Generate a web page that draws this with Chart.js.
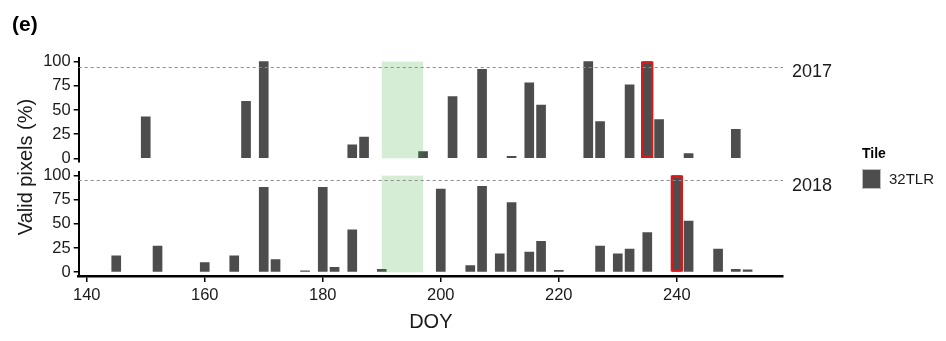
<!DOCTYPE html>
<html>
<head>
<meta charset="utf-8">
<script src="https://cdn.jsdelivr.net/npm/chart.js@4.4.1/dist/chart.umd.min.js"></script>
<style>
  body { margin: 0; background: #fff; font-family: "Liberation Sans", Arial, sans-serif; }
  #wrap { position: relative; width: 946px; height: 341px; overflow: hidden; }
  canvas { position: absolute; left: 0; }
  #topChart { top: 0; }
  #bottomChart { top: 153px; }
  .txt { position: absolute; color: #000; white-space: nowrap; line-height: 1; }
  #tag { left: 12px; top: 13px; font-size: 21px; font-weight: bold; }
  #ytitle { left: 25px; top: 167px; font-size: 20px; color: #1a1a1a; transform: translate(-50%, -50%) rotate(-90deg); }
  #y2017 { left: 792px; top: 62px; font-size: 18px; color: #1a1a1a; }
  #y2018 { left: 792px; top: 176px; font-size: 18px; color: #1a1a1a; }
  #legTitle { left: 862px; top: 146px; font-size: 14px; font-weight: bold; }
  #legBox { position: absolute; left: 862px; top: 169px; width: 17px; height: 18px; background: #4d4d4d; border: 1px solid #bdbdbd; }
  #legText { left: 889px; top: 171px; font-size: 15px; color: #1a1a1a; }
</style>
</head>
<body>
<div id="wrap">
  <canvas id="topChart" width="946" height="180"></canvas>
  <canvas id="bottomChart" width="946" height="188"></canvas>
  <div class="txt" id="tag">(e)</div>
  <div class="txt" id="ytitle">Valid pixels (%)</div>
  <div class="txt" id="y2017">2017</div>
  <div class="txt" id="y2018">2018</div>
  <div class="txt" id="legTitle">Tile</div>
  <div id="legBox"></div>
  <div class="txt" id="legText">32TLR</div>
</div>
<script>
// dates (day of year) and valid pixel share per year
const doy2017 = [150, 167, 170, 185, 187, 197, 202, 207, 212, 215, 217, 225, 227, 232, 235, 237, 242, 250];
const valid2017 = [43, 59, 100, 14, 22, 7, 64, 92, 2, 78, 55, 100, 38, 76, 100, 40, 5, 30];
const doy2018 = [145, 152, 160, 165, 170, 172, 177, 180, 182, 185, 190, 200, 205, 207, 210, 212, 215, 217, 220, 227, 230, 232, 235, 240, 242, 247, 250, 252];
const valid2018 = [17, 27, 10, 17, 88, 13, 1.5, 88, 5, 44, 3, 86, 7, 89, 19, 72, 21, 32, 2, 27, 19, 24, 41, 100, 53, 24, 3, 2.5];

// selected scenes (red boxes)
const picked2017 = [235];
const picked2018 = [240];

// shaded period and threshold line
const bandDays = [190, 197];
const threshold = 95;

const xTicks = [140, 160, 180, 200, 220, 240];
const yTicks = [0, 25, 50, 75, 100];

const FONT = '"Liberation Sans", Arial, sans-serif';
const BAR = '#4d4d4d';

const overlay = {
    id: 'overlay',
    afterDatasetsDraw(chart) {
        const { ctx, chartArea, scales: { x, y } } = chart;
        ctx.save();
        // green period
        const x0 = x.getPixelForValue(bandDays[0]);
        const x1 = x.getPixelForValue(bandDays[1]);
        const yTop = y.getPixelForValue(100);
        const yBot = y.getPixelForValue(0);
        ctx.fillStyle = 'rgba(46, 160, 44, 0.2)';
        ctx.fillRect(x0, yTop, x1 - x0, yBot - yTop);
        // 95 % line
        const yt = Math.round(y.getPixelForValue(threshold)) + 0.5;
        ctx.strokeStyle = '#8c8c8c';
        ctx.lineWidth = 1;
        ctx.setLineDash([3, 3]);
        ctx.beginPath();
        ctx.moveTo(chartArea.left, yt);
        ctx.lineTo(chartArea.right, yt);
        ctx.stroke();
        ctx.restore();
    }
};

function toPoints(days, vals) {
    return days.map((d, i) => ({ x: d, y: vals[i] }));
}

function makePanel(id, days, vals, picked, showX, padding) {
    const pickedPts = picked.map(d => ({ x: d, y: vals[days.indexOf(d)] }));
    return new Chart(document.getElementById(id), {
        type: 'bar',
        data: {
            datasets: [{
                data: toPoints(days, vals),
                backgroundColor: BAR,
                borderWidth: 0,
                barThickness: 9,
                grouped: false,
                order: 1
            }, {
                data: pickedPts,
                backgroundColor: 'rgba(0,0,0,0)',
                borderColor: '#d7191c',
                borderWidth: 2,
                borderSkipped: false,
                barThickness: 12,
                grouped: false,
                order: 0
            }]
        },
        options: {
            responsive: false,
            animation: false,
            layout: { padding: padding },
            plugins: {
                legend: { display: false },
                tooltip: { enabled: false }
            },
            scales: {
                x: {
                    type: 'linear',
                    display: showX,
                    min: 138.64,
                    max: 258,
                    offset: false,
                    afterBuildTicks: s => { s.ticks = xTicks.map(v => ({ value: v })); },
                    afterFit: s => { s.height = showX ? 58.6 : 0; },
                    ticks: { font: { size: 16.5, family: FONT }, color: '#1a1a1a', padding: 3, maxRotation: 0 },
                    grid: { offset: false, drawOnChartArea: false, tickLength: 6, color: '#000', lineWidth: 1.5 },
                    border: { color: '#000', width: 2.5 },
                    title: { display: true, text: 'DOY', font: { size: 20, family: FONT }, color: '#1a1a1a', padding: { top: 0, bottom: 0 } }
                },
                y: {
                    min: -4,
                    max: 104,
                    afterBuildTicks: s => { s.ticks = yTicks.map(v => ({ value: v })); },
                    afterFit: s => { s.width = 78.7; },
                    ticks: { font: { size: 16.5, family: FONT }, color: '#1a1a1a', padding: 3 },
                    grid: { drawOnChartArea: false, tickLength: 5, color: '#000', lineWidth: 1.5 },
                    border: { color: '#000', width: 2 }
                }
            }
        },
        plugins: [overlay]
    });
}

// panel areas: 2017 from y 57.8 to 162.2, 2018 from y 171.8 to 276.1
makePanel('topChart', doy2017, valid2017, picked2017, false, { top: 57.8, bottom: 17.8, left: 0, right: 163 });
makePanel('bottomChart', doy2018, valid2018, picked2018, true, { top: 18.8, bottom: 6.3, left: 0, right: 163 });
</script>
</body>
</html>
